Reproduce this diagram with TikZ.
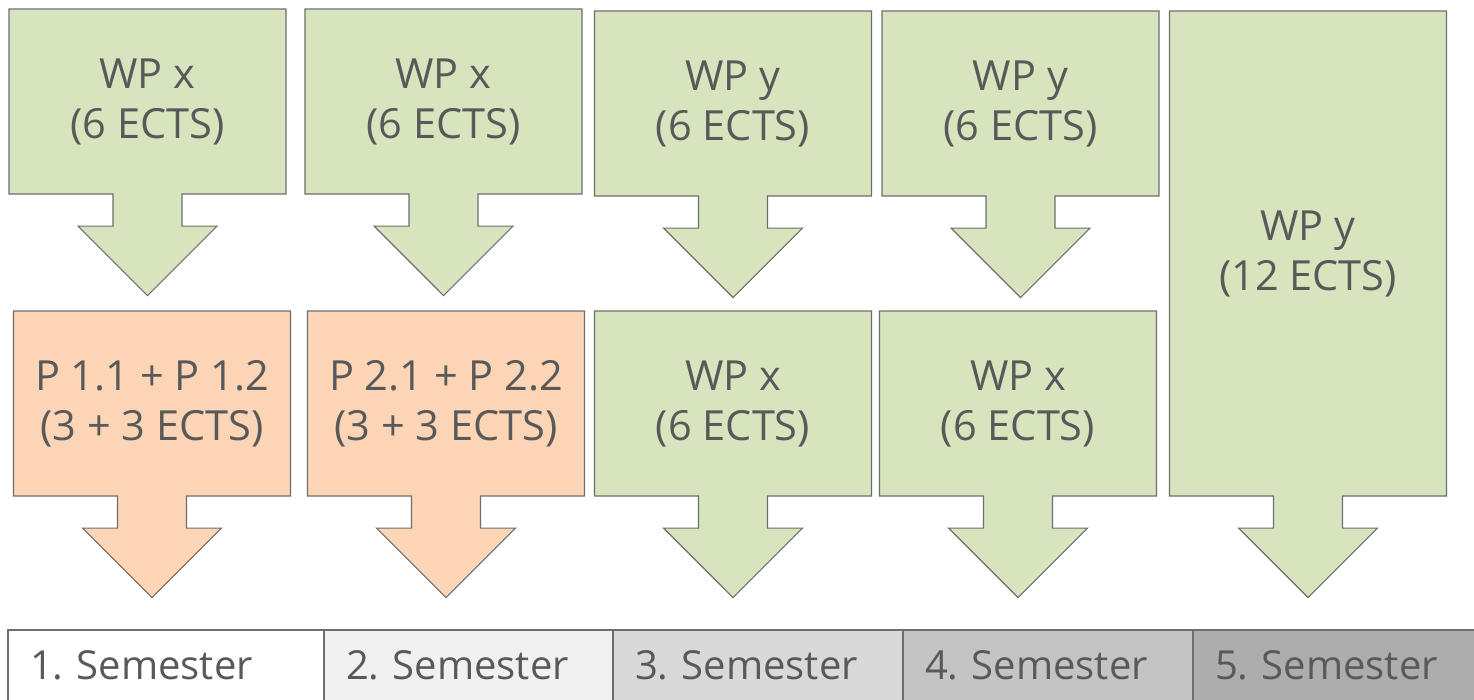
\documentclass[tikz,border=0pt]{standalone}
\usepackage{fontspec}
\setmainfont{Open Sans}
\usetikzlibrary{shapes.arrows,positioning}
\definecolor{wpgreen}{HTML}{D7E4BD}
\definecolor{pmorange}{HTML}{FBD5B5}
\definecolor{framegray}{HTML}{6E6E6E}
\definecolor{textgray}{HTML}{595959}
\definecolor{semtwo}{HTML}{F1F1F1}
\definecolor{semthree}{HTML}{D9D9D9}
\definecolor{semfour}{HTML}{C4C4C4}
\definecolor{semfive}{HTML}{ADADAD}
\frenchspacing
\newcommand{\boxfont}{\fontsize{41.5}{50}\selectfont}
\newcommand{\semfont}{\fontsize{40}{50}\selectfont}
\tikzset{course/.style={shape=arrow box,draw=framegray,line width=1.2pt,text=textgray,
           align=center,font=\boxfont,inner sep=0pt,minimum width=277pt,minimum height=185pt,
           arrow box arrows={south:101pt},arrow box shaft width=69pt,
           arrow box head extend=35pt,arrow box tip angle=90},
         wp/.style={course,fill=wpgreen},
         pm/.style={course,fill=pmorange},
         semcell/.style={draw=framegray,line width=1.2pt,text=textgray,font=\semfont,
           inner xsep=22pt,inner ysep=0pt,outer sep=0pt,minimum height=71pt,align=left}
}

\begin{document}
\begin{tikzpicture}[x=1pt,y=-1pt]
\useasboundingbox (0,0) rectangle (1474,699);

% first row
\node[wp] (wpx1) at (147.5,101.5) {WP x\\(6 ECTS)};
\node[wp] (wpx2) at (443.5,101.5) {WP x\\(6 ECTS)};
\node[wp] (wpy3) at (733,103.5) {WP y\\(6 ECTS)};
\node[wp] (wpy4) at (1020.5,103.5) {WP y\\(6 ECTS)};
\node[wp,minimum height=485pt] (wpy5) at (1308,253.5) {WP y\\(12 ECTS)};

% second row
\node[pm] (p1) at (152,403.5) {P 1.1 + P 1.2\\(3 + 3 ECTS)};
\node[pm] (p2) at (446,403.5) {P 2.1 + P 2.2\\(3 + 3 ECTS)};
\node[wp] (wpx3) at (733,403.5) {WP x\\(6 ECTS)};
\node[wp] (wpx4) at (1018,403.5) {WP x\\(6 ECTS)};

% semester bar
\node[semcell,anchor=north west,text width=272pt] (sem1) at (8,630) {1. Semester};
\node[semcell,fill=semtwo,text width=245pt,right=0pt of sem1] (sem2) {2. Semester};
\node[semcell,fill=semthree,text width=246pt,right=0pt of sem2] (sem3) {3. Semester};
\node[semcell,fill=semfour,text width=246pt,right=0pt of sem3] (sem4) {4. Semester};
\node[semcell,fill=semfive,text width=256pt,right=0pt of sem4] (sem5) {5. Semester};

\end{tikzpicture}
\end{document}
